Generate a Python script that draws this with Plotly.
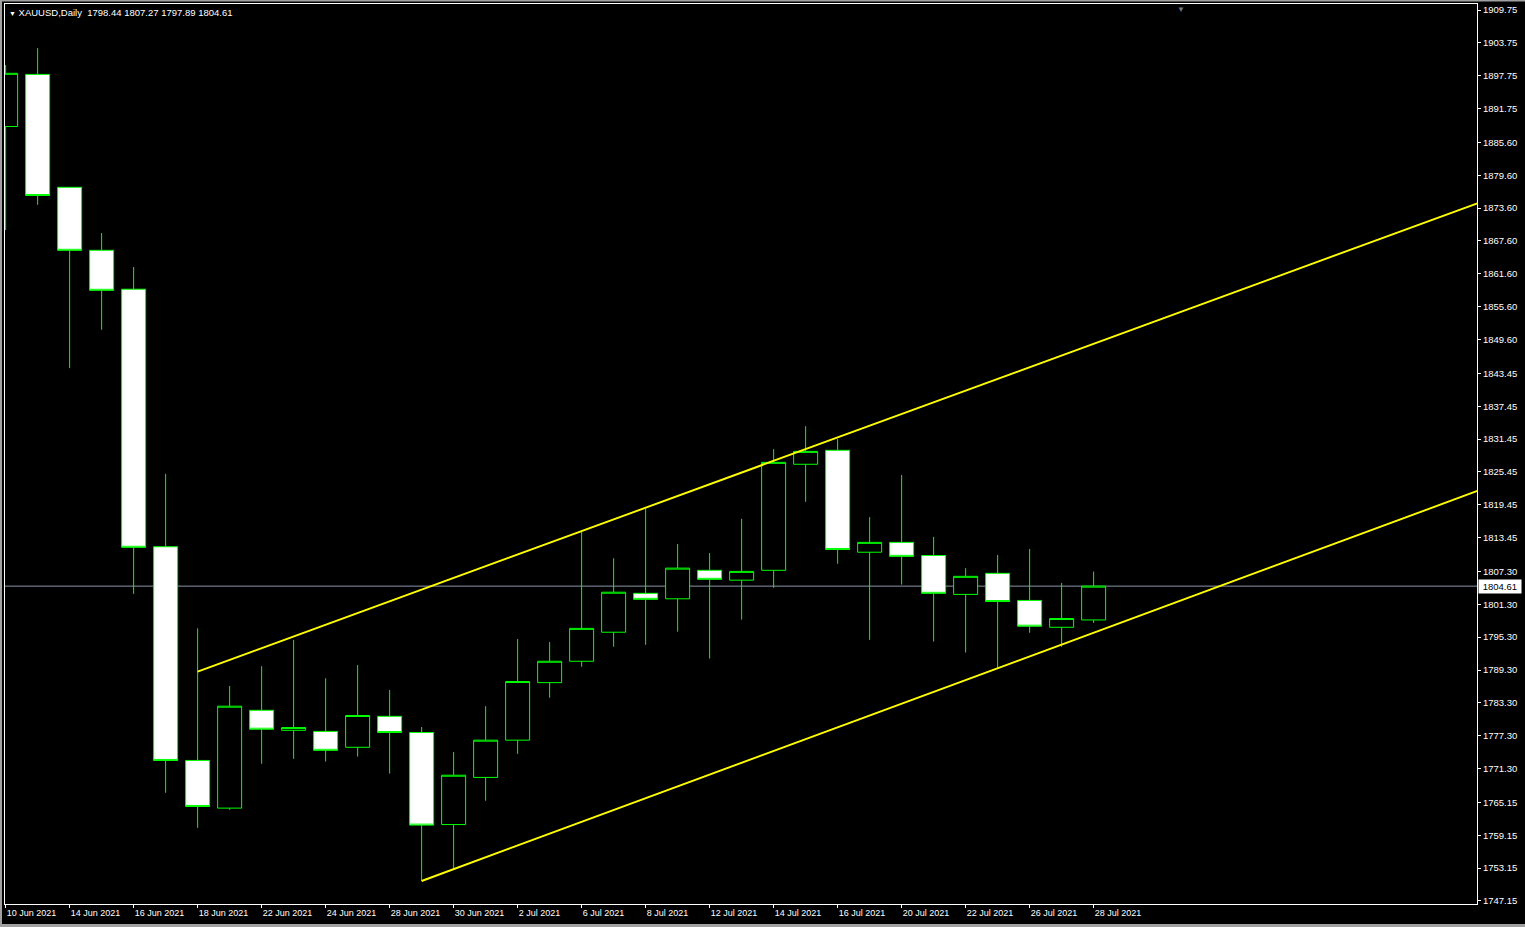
import plotly.graph_objects as go

# ---- data (daily XAUUSD bars) ----
dates = ["10 Jun 2021", "11 Jun 2021", "14 Jun 2021", "15 Jun 2021", "16 Jun 2021",
         "17 Jun 2021", "18 Jun 2021", "21 Jun 2021", "22 Jun 2021", "23 Jun 2021",
         "24 Jun 2021", "25 Jun 2021", "28 Jun 2021", "29 Jun 2021", "30 Jun 2021",
         "1 Jul 2021", "2 Jul 2021", "5 Jul 2021", "6 Jul 2021", "7 Jul 2021",
         "8 Jul 2021", "9 Jul 2021", "12 Jul 2021", "13 Jul 2021", "14 Jul 2021",
         "15 Jul 2021", "16 Jul 2021", "19 Jul 2021", "20 Jul 2021", "21 Jul 2021",
         "22 Jul 2021", "23 Jul 2021", "26 Jul 2021", "27 Jul 2021", "28 Jul 2021"]
opens = [1888.5, 1898.0, 1877.4, 1865.9, 1858.8, 1811.8, 1772.8, 1764.1, 1781.95, 1778.3,
         1778.1, 1775.2, 1780.85, 1777.9, 1761.1, 1769.7, 1776.5, 1787.0, 1790.9, 1796.2,
         1803.3, 1802.3, 1807.5, 1805.7, 1807.5, 1826.85, 1829.4, 1810.8, 1812.6, 1810.2,
         1803.1, 1806.95, 1802.0, 1797.1, 1798.44]
highs = [1899.7, 1902.8, 1877.4, 1869.05, 1862.85, 1825.1, 1796.9, 1786.4, 1790.0, 1794.8,
         1787.8, 1790.2, 1785.65, 1778.9, 1774.35, 1782.7, 1794.95, 1794.4, 1814.5, 1809.7,
         1818.7, 1812.3, 1810.65, 1816.9, 1829.6, 1833.8, 1831.45, 1817.2, 1824.9, 1813.6,
         1807.9, 1810.3, 1811.4, 1805.2, 1807.27]
lows = [1869.6, 1874.2, 1844.4, 1851.4, 1803.2, 1766.9, 1760.5, 1763.8, 1772.2, 1773.1,
        1772.6, 1773.5, 1770.4, 1750.8, 1752.8, 1765.45, 1774.0, 1784.25, 1789.9, 1793.55,
        1793.9, 1796.3, 1791.4, 1798.5, 1804.3, 1820.0, 1808.7, 1794.8, 1804.9, 1794.5,
        1792.5, 1789.7, 1796.1, 1793.55, 1797.89]
closes = [1898.2, 1875.9, 1865.9, 1858.6, 1811.7, 1772.8, 1764.4, 1782.7, 1778.5, 1778.8,
          1774.65, 1781.0, 1777.9, 1761.0, 1770.1, 1776.5, 1787.2, 1790.9, 1796.9, 1803.5,
          1802.2, 1807.9, 1805.85, 1807.3, 1827.2, 1829.2, 1811.3, 1812.6, 1810.05, 1803.3,
          1806.4, 1801.8, 1797.3, 1798.7, 1804.61]

# channel trend lines: (bar index, price) anchors
upper_line_x = [6, 46]
upper_line_y = [1789.0, 1874.5]
lower_line_x = [13, 46]
lower_line_y = [1750.8, 1822.0]

current_price = 1804.61

y_tick_vals = [1909.75, 1903.75, 1897.75, 1891.75, 1885.60, 1879.60, 1873.60, 1867.60,
               1861.60, 1855.60, 1849.60, 1843.45, 1837.45, 1831.45, 1825.45, 1819.45,
               1813.45, 1807.30, 1801.30, 1795.30, 1789.30, 1783.30, 1777.30, 1771.30,
               1765.15, 1759.15, 1753.15, 1747.15]

header_text = "XAUUSD,Daily\u00a0\u00a01798.44 1807.27 1797.89 1804.61"

# ---- figure ----
idx = list(range(len(dates)))
FONT = "Liberation Sans, Arial, sans-serif"
GREEN = "#00FF00"
W, H = 1525, 927
ML, MR, MT, MB = 5, 48, 4, 23
PW, PH = W - ML - MR, H - MT - MB

fig = go.Figure()

fig.add_trace(go.Candlestick(
    x=idx, open=opens, high=highs, low=lows, close=closes,
    increasing=dict(fillcolor="#000000", line=dict(color=GREEN, width=1)),
    decreasing=dict(fillcolor="#FFFFFF", line=dict(color=GREEN, width=1)),
    whiskerwidth=0,
    showlegend=False,
    hoverinfo="skip",
))

# current bid line
fig.add_hline(y=current_price, line=dict(color="#8A96A8", width=1), layer="below")

for lx, ly in ((upper_line_x, upper_line_y), (lower_line_x, lower_line_y)):
    fig.add_trace(go.Scatter(x=lx, y=ly, mode="lines",
                             line=dict(color="#FFFF00", width=1.9),
                             showlegend=False, hoverinfo="skip"))

fig.update_layout(
    width=W, height=H,
    paper_bgcolor="#000000", plot_bgcolor="#000000",
    margin=dict(l=ML, r=MR, t=MT, b=MB),
    boxgap=0.25, boxgroupgap=0,
    font=dict(family=FONT, size=9, color="#FFFFFF"),
    showlegend=False,
    xaxis=dict(
        range=[-0.02, 45.98],
        tickvals=idx[::2], ticktext=dates[::2],
        ticks="outside", ticklen=3, tickcolor="#FFFFFF",
        ticklabelposition="outside right",
        tickfont=dict(family=FONT, size=9, color="#FFFFFF"),
        showgrid=False, zeroline=False,
        showline=True, linecolor="#FFFFFF", linewidth=1, mirror=True,
        rangeslider=dict(visible=False),
        fixedrange=True,
    ),
    yaxis=dict(
        side="right",
        range=[1746.6, 1910.85],
        tickvals=y_tick_vals, ticktext=[f"{v:.2f}" for v in y_tick_vals],
        ticks="outside", ticklen=3, tickcolor="#FFFFFF",
        tickfont=dict(family=FONT, size=9.5, color="#FFFFFF"),
        showgrid=False, zeroline=False,
        showline=True, linecolor="#FFFFFF", linewidth=1, mirror=True,
        fixedrange=True,
    ),
)

# window frame (grey border of the terminal window)
def px_x(p):
    return (p - ML) / PW

def px_y(q):
    return (H - MB - q) / PH

frame = "#A0A0A0"
for x0, y0, x1, y1 in ((0, 0, 2, H), (0, 0, W, 1.5), (0, H - 3, W, H)):
    fig.add_shape(type="rect", xref="paper", yref="paper",
                  x0=px_x(x0), x1=px_x(x1), y0=px_y(y1), y1=px_y(y0),
                  fillcolor=frame, line=dict(width=0), layer="above")

# header
fig.add_annotation(
    xref="paper", yref="paper", x=0, y=1, xanchor="left", yanchor="top",
    xshift=2, yshift=-1, showarrow=False,
    text="<span style='font-size:7px'>\u25BC</span>\u00a0" + header_text,
    font=dict(family=FONT, size=9.5, color="#FFFFFF"),
)

# current price label on the price scale
fig.add_annotation(
    xref="paper", yref="y", x=1, y=current_price, xanchor="left", yanchor="middle",
    xshift=1, showarrow=False, text=f"\u00a0{current_price:.2f}\u00a0",
    bgcolor="#FFFFFF", font=dict(family=FONT, size=9.5, color="#000000"),
    borderpad=1,
)

# chart shift marker
fig.add_annotation(
    xref="paper", yref="paper", x=px_x(1181), y=1, xanchor="center", yanchor="top",
    yshift=1, showarrow=False, text="\u25BC", font=dict(family=FONT, size=8, color="#6E7C8C"),
)

fig.write_html("out.html", config={"displayModeBar": False},
               post_script="document.body.style.margin='0';")
